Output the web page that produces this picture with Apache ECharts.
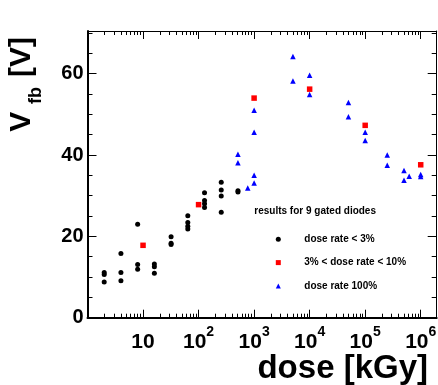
<!DOCTYPE html>
<html>
<head>
<meta charset="utf-8">
<script src="https://cdn.jsdelivr.net/npm/echarts@6/dist/echarts.min.js"></script>
<style>
  html, body { margin: 0; padding: 0; background: #fff; }
  #chart { width: 438px; height: 385px; }
</style>
</head>
<body>
<div id="chart"></div>
<script>
// dose rate < 3%  (black circles)
const circleDose = [2, 2, 2, 4, 4, 4, 8, 8, 8, 16, 16, 16, 32, 32, 32, 64, 64, 64, 64,
  128, 128, 128, 128, 256, 256, 256, 256, 512, 512];
const circleVfb = [11.1, 10.6, 8.8, 15.8, 11.1, 9.1, 23.0, 13.1, 11.9, 13.2, 12.5, 10.9,
  19.9, 18.3, 18.0, 25.1, 23.4, 22.5, 21.8, 30.7, 28.8, 28.0, 27.1, 33.3, 31.4, 29.9, 25.9,
  31.2, 30.9];

// 3% < dose rate < 10%  (red squares)
const squareDose = [10, 100, 1000, 1e4, 1e5, 1e6];
const squareVfb = [17.8, 27.8, 54.0, 56.2, 47.3, 37.6];

// dose rate 100%  (blue triangles)
const triDose = [512, 512, 768, 1000, 1000, 1000, 1000, 5000, 5000, 1e4, 1e4, 5e4, 5e4,
  1e5, 1e5, 2.5e5, 2.5e5, 5e5, 5e5, 6.2e5, 1e6, 1e6];
const triVfb = [40.2, 38.1, 31.9, 51.0, 45.6, 35.0, 33.1, 64.2, 58.2, 59.6, 54.9, 52.9, 49.4,
  45.6, 43.6, 40.0, 37.5, 36.2, 33.8, 34.8, 35.2, 34.7];

const legendNames = ['dose rate < 3%', '3% < dose rate < 10%', 'dose rate 100%'];

// ticks
const xMajor = [10, 100, 1000, 1e4, 1e5, 1e6];
const yMajor = [0, 20, 40, 60];
const xMinor = [];
for (let d = 1; d <= 1e6; d *= 10) {
  for (let m = 2; m <= 9; m++) {
    if (d * m < 1.94e6) xMinor.push(d * m);
  }
}
const yMinor = [];
for (let v = 5; v <= 70; v += 5) {
  if (v % 20 !== 0) yMinor.push(v);
}

const FONT = 'Liberation Sans';

const pairs = (xs, ys) => xs.map((x, i) => [x, ys[i]]);

const chart = echarts.init(document.getElementById('chart'));

const xBase = {
  type: 'log', min: 1, max: 1.94e6, gridIndex: 0,
  splitLine: { show: false }
};
const yBase = {
  type: 'value', min: 0, max: 70.5, gridIndex: 0,
  splitLine: { show: false }
};

function xAx(pos, major, lineW) {
  return Object.assign({}, xBase, {
    position: pos,
    axisLine: { show: lineW > 0, onZero: false, lineStyle: { color: '#000', width: lineW } },
    axisTick: {
      inside: true, length: major ? 8 : 4,
      customValues: major ? xMajor : xMinor,
      lineStyle: { color: '#000', width: 1 }
    },
    axisLabel: (pos === 'bottom' && major) ? {
      customValues: xMajor,
      margin: 7,
      formatter: function (v) {
        const e = Math.round(Math.log10(v));
        return e === 1 ? '{b|10}' : '{b|10}{s|' + e + '}';
      },
      rich: {
        b: { fontFamily: FONT, fontWeight: 'bold', fontSize: 21, color: '#000', lineHeight: 28, verticalAlign: 'bottom' },
        s: { fontFamily: FONT, fontWeight: 'bold', fontSize: 14, color: '#000', lineHeight: 14, verticalAlign: 'top' }
      }
    } : { show: false }
  });
}

function yAx(pos, major, lineW) {
  return Object.assign({}, yBase, {
    position: pos,
    axisLine: { show: lineW > 0, onZero: false, lineStyle: { color: '#000', width: lineW } },
    axisTick: {
      inside: true, length: major ? 9 : 5,
      customValues: major ? yMajor : yMinor,
      lineStyle: { color: '#000', width: 1 }
    },
    axisLabel: (pos === 'left' && major) ? {
      customValues: yMajor,
      margin: 4,
      fontFamily: FONT, fontWeight: 'bold', fontSize: 20, color: '#000'
    } : { show: false }
  });
}

const option = {
  animation: false,
  backgroundColor: '#fff',
  grid: {
    left: 87.5, top: 31, width: 349.2, height: 286.7,
    containLabel: false, outerBoundsMode: 'none'
  },
  xAxis: [
    xAx('bottom', true, 2),
    xAx('bottom', false, 0),
    xAx('top', true, 1),
    xAx('top', false, 0)
  ],
  yAxis: [
    yAx('left', true, 2),
    yAx('left', false, 0),
    yAx('right', true, 1),
    yAx('right', false, 0)
  ],
  legend: {
    orient: 'vertical',
    left: 270.8, top: 228.3,
    itemWidth: 5, itemHeight: 5, itemGap: 11.3,
    textStyle: {
      fontFamily: FONT, fontWeight: 'bold', fontSize: 10, color: '#000',
      lineHeight: 12, padding: [0, 0, 0, 18.5]
    },
    data: [
      { name: legendNames[0], icon: 'circle' },
      { name: legendNames[1], icon: 'rect' },
      { name: legendNames[2], icon: 'triangle' }
    ]
  },
  graphic: [
    {
      type: 'text', x: 254.3, y: 211.7,
      style: {
        text: 'results for 9 gated diodes',
        font: 'bold 10px "Liberation Sans"', fill: '#000',
        align: 'left', verticalAlign: 'middle'
      }
    },
    {
      type: 'text', x: 428, y: 369,
      style: {
        text: 'dose [kGy]',
        font: 'bold 33px "Liberation Sans"', fill: '#000',
        align: 'right', verticalAlign: 'middle'
      }
    },
    {
      type: 'text', x: 21.5, y: 131.7, rotation: Math.PI / 2,
      style: {
        text: 'V',
        font: 'bold 30px "Liberation Sans"', fill: '#000',
        align: 'left', verticalAlign: 'middle'
      }
    },
    {
      type: 'text', x: 36.5, y: 104, rotation: Math.PI / 2,
      style: {
        text: 'fb',
        font: 'bold 18px "Liberation Sans"', fill: '#000',
        align: 'left', verticalAlign: 'middle'
      }
    },
    {
      type: 'text', x: 21.5, y: 77, rotation: Math.PI / 2,
      style: {
        text: '[V]',
        font: 'bold 30px "Liberation Sans"', fill: '#000',
        align: 'left', verticalAlign: 'middle'
      }
    }
  ],
  series: [
    {
      name: legendNames[0], type: 'scatter', xAxisIndex: 0, yAxisIndex: 0,
      symbol: 'circle', symbolSize: 5,
      itemStyle: { color: '#000', opacity: 1 },
      data: pairs(circleDose, circleVfb)
    },
    {
      name: legendNames[1], type: 'scatter', xAxisIndex: 0, yAxisIndex: 0,
      symbol: 'rect', symbolSize: 5.5,
      itemStyle: { color: '#ff0000', opacity: 1 },
      data: pairs(squareDose, squareVfb)
    },
    {
      name: legendNames[2], type: 'scatter', xAxisIndex: 0, yAxisIndex: 0,
      symbol: 'triangle', symbolSize: 5.5,
      itemStyle: { color: '#0000ff', opacity: 1 },
      data: pairs(triDose, triVfb)
    }
  ]
};

chart.setOption(option);
</script>
</body>
</html>
